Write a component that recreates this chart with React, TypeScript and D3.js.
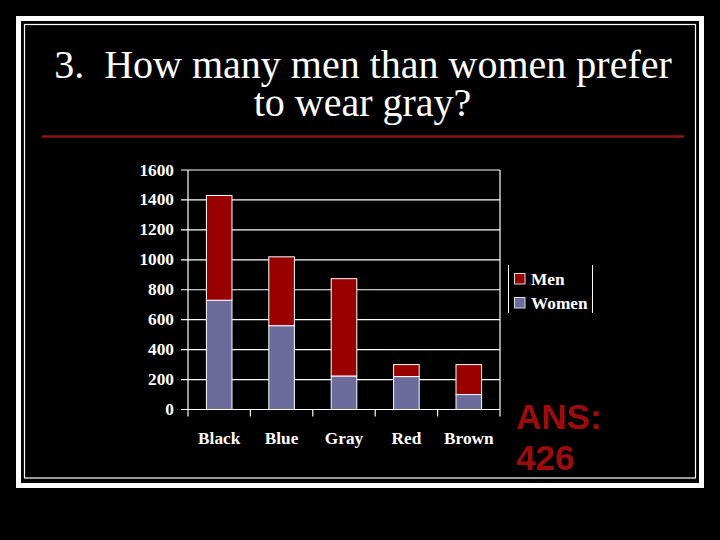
import React from "react";
import * as d3 from "d3";

const categories = ["Black", "Blue", "Gray", "Red", "Brown"];
const women = [730, 560, 224, 220, 100];
const men = [700, 460, 650, 80, 200];
const yTicks = [0, 200, 400, 600, 800, 1000, 1200, 1400, 1600];
const seriesNames = ["Women", "Men"];
const seriesColors = { Women: "#6b6b9c", Men: "#990000" };
const titleLines = ["3.  How many men than women prefer", "to wear gray?"];
const answerLines = ["ANS:", "426"];

const W = 720;
const H = 540;
const plot = { left: 188, right: 500, top: 170, bottom: 409.5 };
const SX = 1.08;

export default function App() {
  const rows = categories.map((c, i) => ({ cat: c, Women: women[i], Men: men[i] }));
  const stack = d3.stack<any>().keys(seriesNames)(rows);
  const x = d3.scaleBand().domain(categories).range([plot.left, plot.right]).padding(0);
  const y = d3.scaleLinear().domain([0, 1600]).range([plot.bottom, plot.top]);
  const barW = x.bandwidth() * 0.41;
  const boundaries = [plot.left, ...categories.map((c) => (x(c) as number) + x.bandwidth())];
  const labelFont = "'Liberation Serif', 'Times New Roman', serif";

  return (
    <svg
      width={W}
      height={H}
      style={{ position: "absolute", left: 0, top: 0, background: "#000" }}
    >
      <rect x={0} y={0} width={W} height={H} fill="#000" />
      {/* slide frame */}
      <rect x={18.5} y={18.5} width={683} height={467} fill="none" stroke="#fff" strokeWidth={5} />
      <rect x={24.5} y={24.5} width={671} height={453.5} fill="none" stroke="#fff" strokeWidth={1.2} />

      {/* title */}
      <g fontFamily={labelFont} fontSize={40} fill="#fff" textAnchor="middle" style={{ whiteSpace: "pre" }}>
        <text x={363} y={78} style={{ whiteSpace: "pre" }}>{titleLines[0]}</text>
        <text x={362.5} y={115.5}>{titleLines[1]}</text>
      </g>
      <line x1={42} x2={684} y1={136.5} y2={136.5} stroke="#8e1414" strokeWidth={2.5} />

      {/* gridlines */}
      {yTicks.map((t) => (
        <line
          key={"g" + t}
          x1={plot.left - 7}
          x2={plot.right}
          y1={y(t)}
          y2={y(t)}
          stroke="#fff"
          strokeWidth={1.2}
        />
      ))}
      {/* axes & frame */}
      <line x1={plot.left} x2={plot.left} y1={plot.top} y2={plot.bottom} stroke="#fff" strokeWidth={1.2} />
      <line x1={plot.right} x2={plot.right} y1={plot.top} y2={plot.bottom} stroke="#fff" strokeWidth={1.2} />
      {boundaries.map((b, i) => (
        <line key={"xt" + i} x1={b} x2={b} y1={plot.bottom} y2={plot.bottom + 7} stroke="#fff" strokeWidth={1.2} />
      ))}

      {/* bars */}
      {stack.map((s) => (
        <g key={s.key} fill={(seriesColors as any)[s.key]}>
          {s.map((d: any, i: number) => (
            <rect
              key={i}
              x={(x(categories[i]) as number) + (x.bandwidth() - barW) / 2}
              y={y(d[1])}
              width={barW}
              height={y(d[0]) - y(d[1])}
              stroke="#fff"
              strokeWidth={1}
            />
          ))}
        </g>
      ))}

      {/* y labels */}
      <g fontFamily={labelFont} fontWeight="bold" fontSize={16} fill="#fff">
        {yTicks.map((t) => (
          <text
            key={"yl" + t}
            transform={`translate(174,${y(t) + 5.5}) scale(${SX},1)`}
            textAnchor="end"
          >
            {t}
          </text>
        ))}
        {categories.map((c) => (
          <text
            key={"xl" + c}
            transform={`translate(${(x(c) as number) + x.bandwidth() / 2},444) scale(${SX},1)`}
            textAnchor="middle"
          >
            {c}
          </text>
        ))}
      </g>

      {/* legend */}
      <g>
        <line x1={508.5} x2={508.5} y1={265} y2={313} stroke="#fff" strokeWidth={1} />
        <line x1={592.5} x2={592.5} y1={265} y2={313} stroke="#fff" strokeWidth={1} />
        {["Men", "Women"].map((k, i) => (
          <g key={k}>
            <rect
              x={514.5}
              y={273.5 + i * 24}
              width={10.5}
              height={10.5}
              fill={(seriesColors as any)[k]}
              stroke="#ddd"
              strokeWidth={1}
            />
            <text
              transform={`translate(531,${284.5 + i * 24}) scale(${SX},1)`}
              fontFamily={labelFont}
              fontWeight="bold"
              fontSize={16}
              fill="#fff"
            >
              {k}
            </text>
          </g>
        ))}
      </g>

      {/* answer */}
      <g fontFamily="'Liberation Sans', Arial, sans-serif" fontWeight="bold" fontSize={35} fill="#9c0c0c">
        <text x={516} y={429}>{answerLines[0]}</text>
        <text x={516} y={470}>{answerLines[1]}</text>
      </g>
    </svg>
  );
}
